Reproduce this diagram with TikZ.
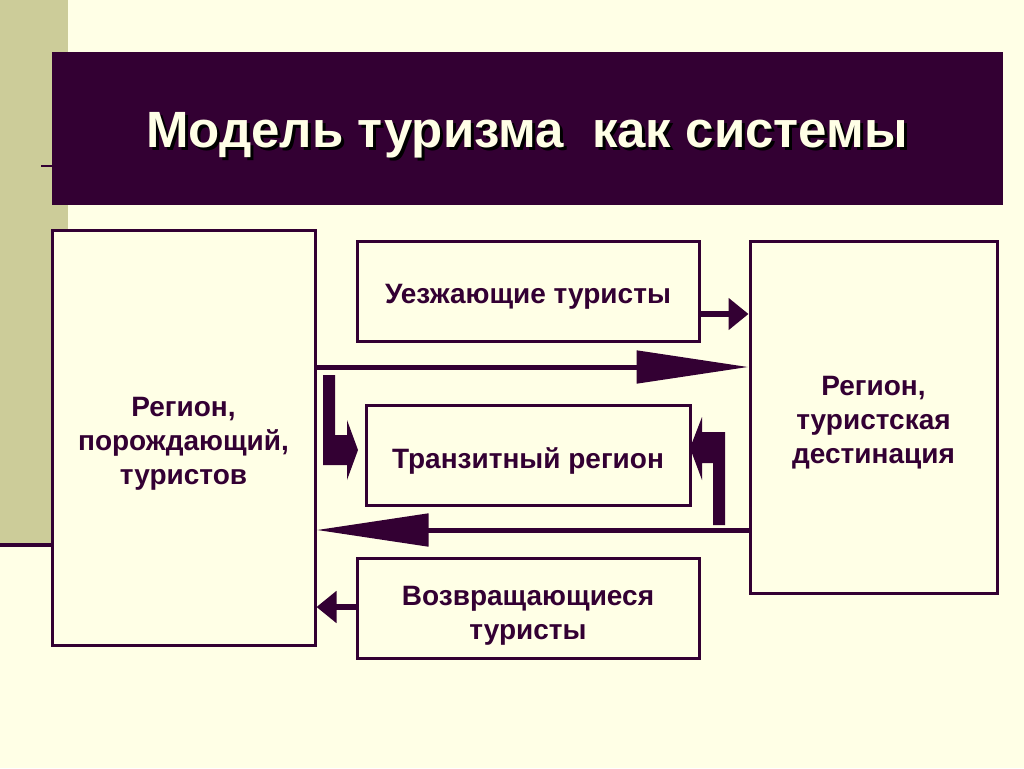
\documentclass[tikz,border=0pt]{standalone}
\usepackage{fontspec}
\setmainfont{Liberation Sans}
\usetikzlibrary{arrows.meta,calc}

\definecolor{plum}{HTML}{330033}
\definecolor{cream}{HTML}{FFFFE6}
\definecolor{olive}{HTML}{CCCC99}

\newcommand{\shadowed}[1]{\makebox[0pt][l]{\kern3pt\raisebox{-3pt}{\color{black}#1}}#1}

\tikzset{
  regionbox/.style={draw=plum, line width=3pt, fill=cream},
  boxtext/.style={text=plum, align=center, yshift=-6pt,
    font=\fontsize{28}{34}\selectfont\bfseries},
  flowbox/.style={regionbox, minimum width=342pt, minimum height=100pt},
  bigflow/.style={plum, line width=5pt, -{Triangle[length=112pt,width=32pt]}},
  smallflow/.style={plum, line width=6pt, -{Triangle[length=20pt,width=31pt]}}
}

\begin{document}
\begin{tikzpicture}[x=1pt,y=-1pt]
    % background
    \fill[cream] (0,0) rectangle (1024,768);
    \useasboundingbox (0,0) rectangle (1024,768);
    \fill[olive] (0,0) rectangle (68,543);
    \draw[plum, line width=4pt] (0,545) -- (70,545);
    \draw[plum, line width=2pt] (41,166) -- (52,166);

    % title
    \fill[plum] (52,52) rectangle (1003,205);
    \node[text=cream, font=\fontsize{51}{60}\selectfont\bfseries] (title) at (527,137)
        {\shadowed{Модель туризма\ \ как системы}};

    % regions
    \node[regionbox, minimum width=263pt, minimum height=415pt,
        label={[boxtext]center:Регион,\\порождающий,\\туристов}] (origin) at (183.5,437.5) {};
    \node[regionbox, minimum width=247pt, minimum height=352pt,
        label={[boxtext]center:Регион,\\туристская\\дестинация}] (dest) at (873.5,417) {};

    % flows
    \node[flowbox, label={[boxtext]center:Уезжающие туристы}] (depart) at (528,291) {};
    \node[flowbox, minimum width=324pt,
        label={[boxtext]center:Транзитный регион}] (transit) at (528,455) {};
    \node[flowbox, label={[boxtext,yshift=-2pt]center:Возвращающиеся\\туристы}] (return) at (528,608) {};

    \draw[smallflow] (depart.east |- 0,314) -- (dest.west |- 0,314);
    \draw[bigflow] (origin.east |- 0,367) -- (dest.west |- 0,367);
    \draw[bigflow] (dest.west |- 0,530) -- (origin.east |- 0,530);
    \draw[smallflow] (return.west |- 0,607) -- (origin.east |- 0,607);

    % bent arrows to the transit region
    \fill[plum] (323,375) -- (335,375) -- (335,435) -- (347,435) -- (347,420)
        -- (358,450) -- (347,480) -- (347,465) -- (323,465) -- cycle;
    \fill[plum] (725,525) -- (713,525) -- (713,463) -- (702,463) -- (702,480)
        -- (690,448) -- (702,417) -- (702,432) -- (725,432) -- cycle;
\end{tikzpicture}
\end{document}
